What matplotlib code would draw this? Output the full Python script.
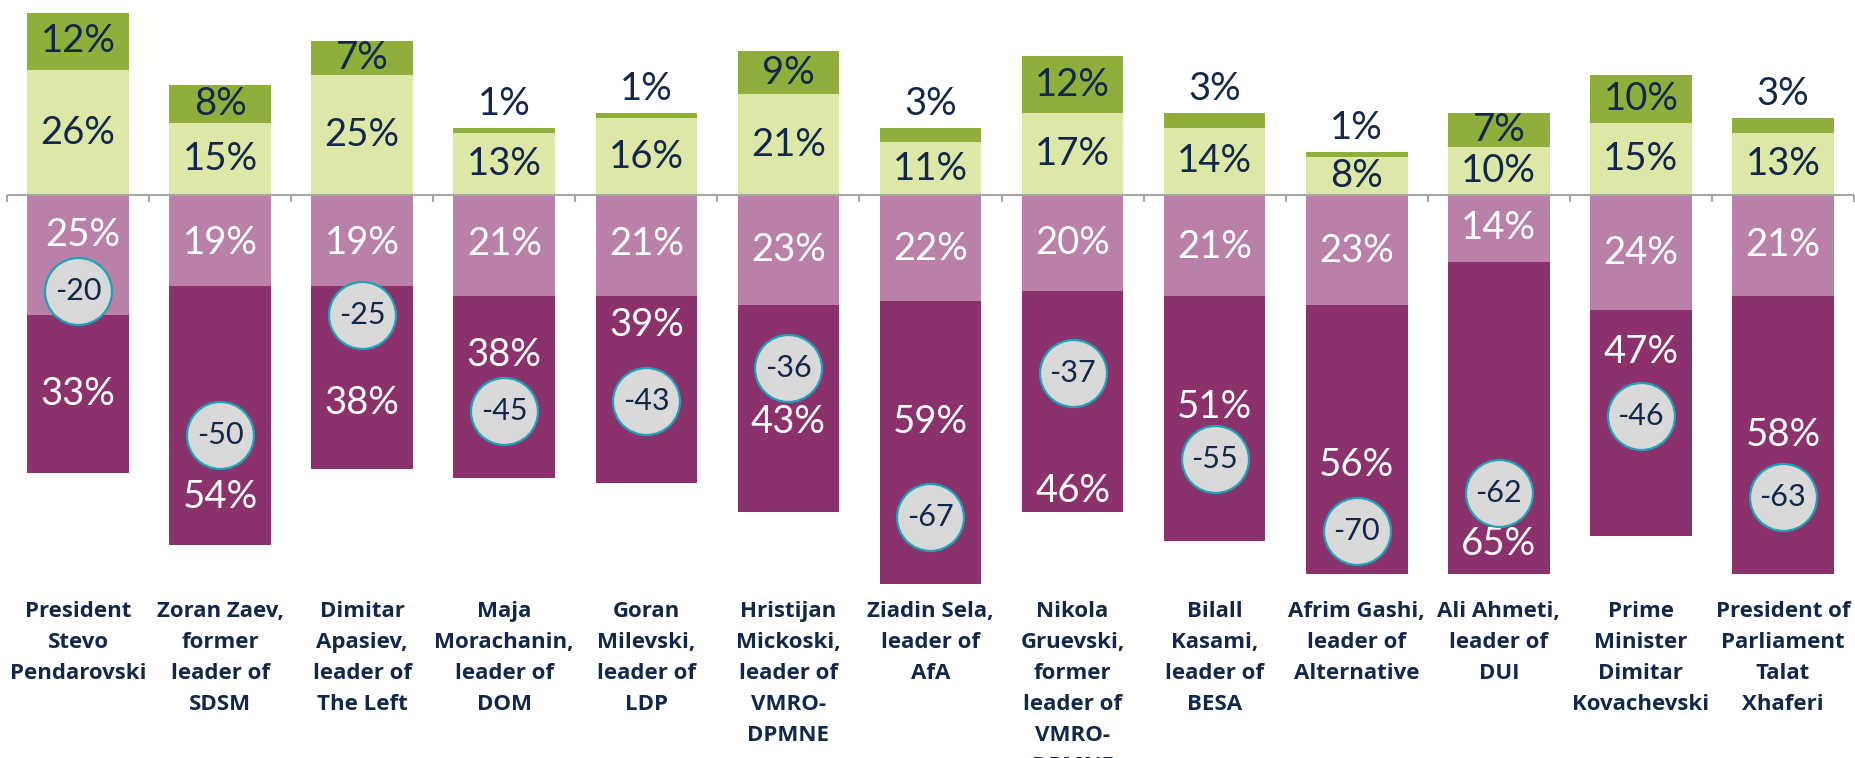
import matplotlib
matplotlib.use('Agg')
import matplotlib.pyplot as plt
from matplotlib import font_manager
import numpy as np

# ---------------- data ----------------
categories = [
    "President\nStevo\nPendarovski",
    "Zoran Zaev,\nformer\nleader of\nSDSM",
    "Dimitar\nApasiev,\nleader of\nThe Left",
    "Maja\nMorachanin,\nleader of\nDOM",
    "Goran\nMilevski,\nleader of\nLDP",
    "Hristijan\nMickoski,\nleader of\nVMRO-\nDPMNE",
    "Ziadin Sela,\nleader of\nAfA",
    "Nikola\nGruevski,\nformer\nleader of\nVMRO-\nDPMNE",
    "Bilall\nKasami,\nleader of\nBESA",
    "Afrim Gashi,\nleader of\nAlternative",
    "Ali Ahmeti,\nleader of\nDUI",
    "Prime\nMinister\nDimitar\nKovachevski",
    "President of\nParliament\nTalat\nXhaferi",
]
very_fav = [12, 8, 7, 1, 1, 9, 3, 12, 3, 1, 7, 10, 3]
some_fav = [26, 15, 25, 13, 16, 21, 11, 17, 14, 8, 10, 15, 13]
some_unfav = [25, 19, 19, 21, 21, 23, 22, 20, 21, 23, 14, 24, 21]
very_unfav = [33, 54, 38, 38, 39, 43, 59, 46, 51, 56, 65, 47, 58]
net = [-20, -50, -25, -45, -43, -36, -67, -37, -55, -70, -62, -46, -63]

# ---------------- layout (label positions, data units) ----------------
su_label_y = [-8.3, -9.9, -10, -10.3, -10.3, -11.5, -11.2, -10, -10.8, -11.7, -6.9, -12, -10.4]
vu_label_y = [-41.5, -62.9, -43.4, -33.4, -27, -47.3, -47.2, -61.6, -44.2, -56.2, -72.8, -32.8, -50]

# ---------------- styles ----------------
C_VF = '#8FAE3B'
C_SF = '#DDE8A8'
C_SU = '#BA81A8'
C_VU = '#8B316B'
NAVY = '#12284A'
CIRC_FILL = '#D9D9D9'
CIRC_EDGE = '#1BA3B8'
AXIS = '#A6A6A6'

avail = {f.name for f in font_manager.fontManager.ttflist}
VFONT = 'Lato' if 'Lato' in avail else 'DejaVu Sans'
LFONT = 'Open Sans' if 'Open Sans' in avail else 'DejaVu Sans'
plt.rcParams['font.family'] = [VFONT, 'DejaVu Sans']

W, H = 1856, 758
fig = plt.figure(figsize=(W / 100, H / 100), dpi=100)
PX = 4.8          # pixels per percent
ZERO = 195        # pixel row of zero line
BOTTOM = 590
ax = fig.add_axes([7 / W, 1 - BOTTOM / H, 1847 / W, BOTTOM / H])
ax.set_xlim(-0.5, 12.5)
ax.set_ylim(-(BOTTOM - ZERO) / PX, ZERO / PX)
ax.axis('off')

x = np.arange(len(categories))
bw = 0.715
sf = np.array(some_fav)
vf = np.array(very_fav)
su = np.array(some_unfav)
vu = np.array(very_unfav)

ax.bar(x, sf, bw, bottom=0, color=C_SF, zorder=2)
ax.bar(x, vf, bw, bottom=sf, color=C_VF, zorder=2)
ax.bar(x, -su, bw, bottom=0, color=C_SU, zorder=2)
ax.bar(x, -vu, bw, bottom=-su, color=C_VU, zorder=2)

ax.axhline(0, color=AXIS, lw=1.5, zorder=3)
ax.vlines(np.arange(len(categories) + 1) - 0.5, -1.5, 0, color=AXIS, lw=1.5, zorder=3, clip_on=False)

VS = 27.5
for i in range(len(categories)):
    # favourable labels
    ax.text(x[i], sf[i] / 2, f"{sf[i]}%", ha='center', va='center', fontsize=VS, color=NAVY, zorder=5)
    if vf[i] <= 3:
        ax.text(x[i], sf[i] + vf[i] + 5, f"{vf[i]}%", ha='center', va='center', fontsize=VS, color=NAVY, zorder=5)
    else:
        ax.text(x[i], sf[i] + vf[i] / 2, f"{vf[i]}%", ha='center', va='center', fontsize=VS, color=NAVY, zorder=5)
    # unfavourable labels
    dx = 0.035 if i == 0 else 0
    ax.text(x[i] + dx, su_label_y[i], f"{su[i]}%", ha='center', va='center', fontsize=VS, color='white', zorder=5)
    ax.text(x[i], vu_label_y[i], f"{vu[i]}%", ha='center', va='center', fontsize=VS, color='white', zorder=5)
    # category label
    ax.text(x[i], -(601 - ZERO) / PX, categories[i], ha='center', va='top', fontsize=16,
            fontweight='bold', color=NAVY, linespacing=1.63, clip_on=False,
            family=[LFONT, 'DejaVu Sans'])

# net circles
ax.scatter(x, net, s=(67 * 0.72) ** 2, facecolor=CIRC_FILL, edgecolor=CIRC_EDGE, linewidth=1.6, zorder=6)
for i in range(len(categories)):
    ax.text(x[i], net[i], f"{net[i]}", ha='center', va='center', fontsize=22, color=NAVY, zorder=7)

fig.savefig('out.png', dpi=100)
